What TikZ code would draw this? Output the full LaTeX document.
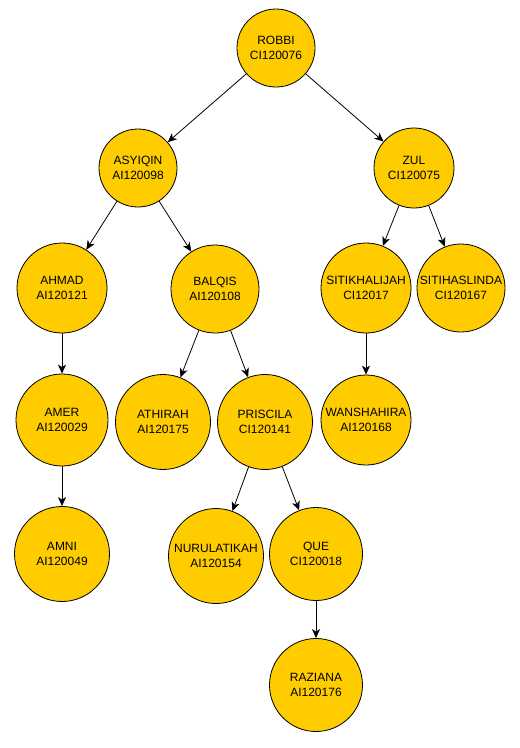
\documentclass[tikz,border=0pt]{standalone}
\usepackage{fontspec}
\setmainfont{Liberation Sans}
\usetikzlibrary{arrows.meta}
\definecolor{nodefill}{RGB}{255,204,0}
\begin{document}
\begin{tikzpicture}[x=1pt,y=-1pt,
  person/.style={circle,draw=black,line width=0.8pt,fill=nodefill,inner sep=0pt,
    minimum size=#1,align=center,font=\fontsize{12}{15}\selectfont},
  person/.default=90pt,
  link/.style={draw=black,line width=0.8pt,-{Stealth[length=9pt,width=8pt,inset=2.5pt]}}]
\useasboundingbox (0,0) rectangle (520,748);
\node[person=78pt] (robbi) at (276,48) {ROBBI\\CI120076};
\node[person=78pt] (asyiqin) at (138,168) {ASYIQIN\\AI120098};
\node[person=80pt] (zul) at (414,168) {ZUL\\CI120075};
\node[person=90pt] (ahmad) at (62,288) {AHMAD\\AI120121};
\node[person=88pt] (balqis) at (215,289) {BALQIS\\AI120108};
\node[person=90pt] (sitik) at (366,288) {SITIKHALIJAH\\CI12017};
\node[person=88pt] (sitih) at (461,288) {SITIHASLINDA\\CI120167};
\node[person=92pt] (amer) at (62,420) {AMER\\AI120029};
\node[person=95pt] (athirah) at (163,422) {ATHIRAH\\AI120175};
\node[person=95pt] (priscila) at (265,422) {PRISCILA\\CI120141};
\node[person=90pt] (wan) at (366,420) {WANSHAHIRA\\AI120168};
\node[person=95pt] (amni) at (62,554) {AMNI\\AI120049};
\node[person=95pt] (nurul) at (216,556) {NURULATIKAH\\AI120154};
\node[person=93pt] (que) at (316,554) {QUE\\CI120018};
\node[person=93pt] (raziana) at (316,685) {RAZIANA\\AI120176};
\draw[link] (robbi) -- (asyiqin);
\draw[link] (robbi) -- (zul);
\draw[link] (asyiqin) -- (ahmad);
\draw[link] (asyiqin) -- (balqis);
\draw[link] (zul) -- (sitik);
\draw[link] (zul) -- (sitih);
\draw[link] (ahmad) -- (amer);
\draw[link] (amer) -- (amni);
\draw[link] (balqis) -- (athirah);
\draw[link] (balqis) -- (priscila);
\draw[link] (sitik) -- (wan);
\draw[link] (priscila) -- (nurul);
\draw[link] (priscila) -- (que);
\draw[link] (que) -- (raziana);
\end{tikzpicture}
\end{document}
